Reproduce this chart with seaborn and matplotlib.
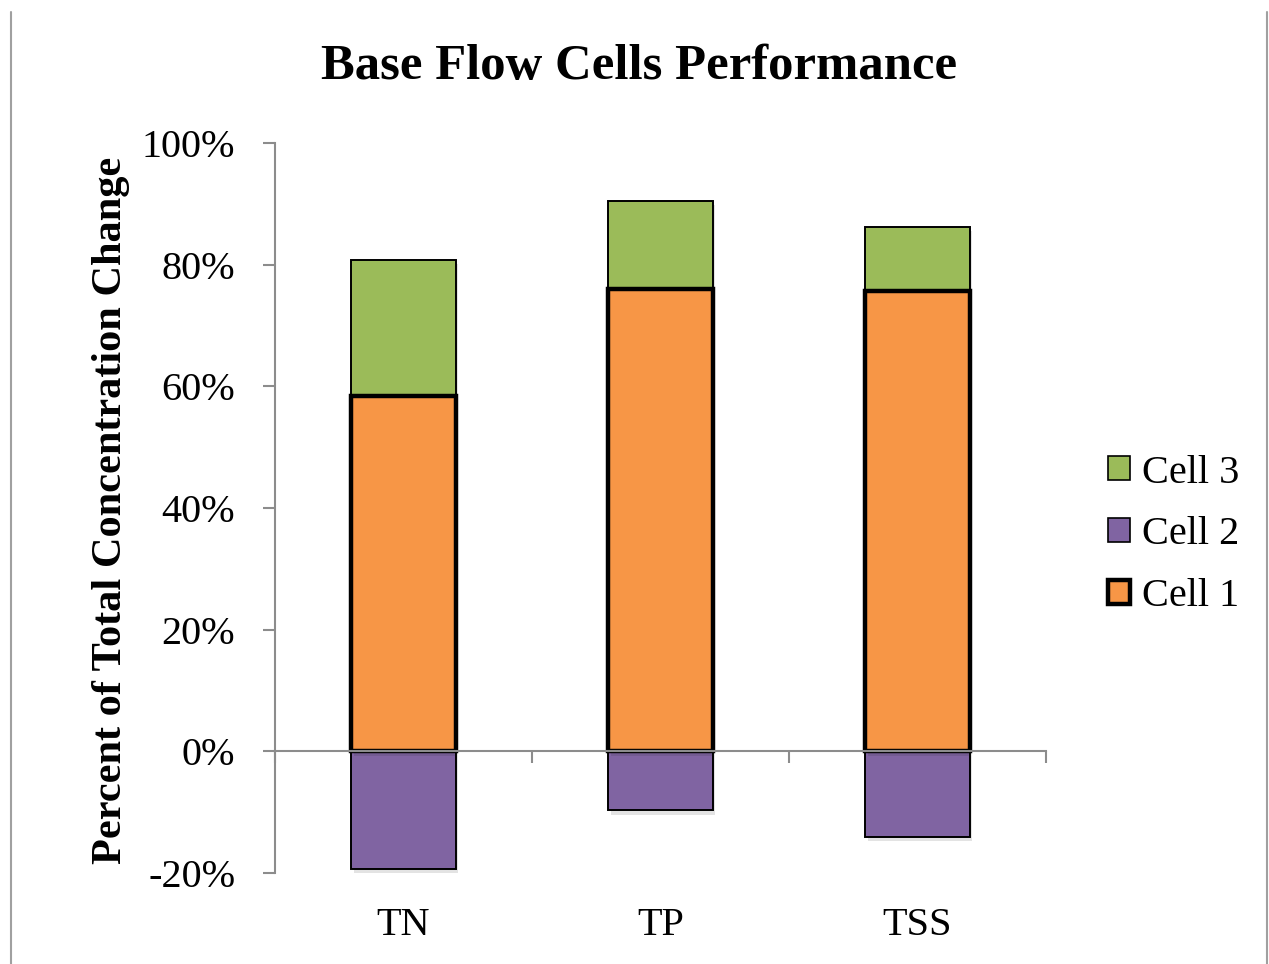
import numpy as np
import pandas as pd
import seaborn as sns
import matplotlib.pyplot as plt
from matplotlib.lines import Line2D
from matplotlib.ticker import PercentFormatter, FixedLocator
import matplotlib.patheffects as pe

# values (fraction of total concentration change)
categories = ['TN', 'TP', 'TSS']
cell1 = [0.584, 0.760, 0.757]
cell2 = [-0.194, -0.097, -0.140]
cell3 = [0.224, 0.145, 0.105]

c1_color = '#F79646'
c2_color = '#8064A2'
c3_color = '#9BBB59'
grey = '#8C8C8C'

sns.set_theme(style='white')
plt.rcParams['font.family'] = ['Liberation Serif', 'DejaVu Serif']
plt.rcParams['axes.unicode_minus'] = False
plt.rcParams['text.color'] = 'black'
plt.rcParams['axes.labelcolor'] = 'black'

df = pd.DataFrame({'cat': categories, 'Cell 1': cell1, 'Cell 2': cell2, 'Cell 3': cell3})

fig = plt.figure(figsize=(12.69, 9.64), dpi=100)
ax = fig.add_axes([275/1269, 1-873/964, 771/1269, 730/964])

shadow = [pe.SimplePatchShadow(offset=(2, -3), shadow_rgbFace='k', alpha=0.12), pe.Normal()]

sns.barplot(data=df, x='cat', y='Cell 2', color=c2_color, width=0.405,
            edgecolor='black', linewidth=1.4, saturation=1, ax=ax)
sns.barplot(data=df, x='cat', y='Cell 3', bottom=df['Cell 1'], color=c3_color, width=0.405,
            edgecolor='black', linewidth=1.4, saturation=1, ax=ax)
sns.barplot(data=df, x='cat', y='Cell 1', color=c1_color, width=0.405,
            edgecolor='black', linewidth=3.2, saturation=1, ax=ax)
for p in ax.patches:
    p.set_path_effects(shadow)

ax.set_ylim(-0.2, 1.0)
ax.set_xlim(-0.5, 2.5)
ax.yaxis.set_major_locator(FixedLocator(np.arange(-0.2, 1.01, 0.2)))
ax.yaxis.set_major_formatter(PercentFormatter(1.0, decimals=0))

for s in ['top', 'right']:
    ax.spines[s].set_visible(False)
ax.spines['left'].set_color(grey)
ax.spines['left'].set_linewidth(1.5)
ax.spines['bottom'].set_color(grey)
ax.spines['bottom'].set_linewidth(1.5)
ax.spines['bottom'].set_position(('data', 0))
ax.spines['bottom'].set_zorder(5)

ax.tick_params(axis='y', which='major', left=True, direction='out', length=8.6,
               width=1.5, color=grey, labelsize=29, pad=20, labelcolor='black')
ax.xaxis.set_minor_locator(FixedLocator([-0.5, 0.5, 1.5, 2.5]))
ax.tick_params(axis='x', which='minor', bottom=True, direction='out', length=8.6,
               width=1.5, color=grey)
ax.tick_params(axis='x', which='major', bottom=True, length=0, labelsize=29, pad=112,
               labelcolor='black')

ax.set_xlabel('')
ax.set_ylabel('Percent of Total Concentration Change', fontsize=30.5, fontweight='bold',
              color='black')
ax.yaxis.set_label_coords(-0.188, 0.497)

fig.text(639/1269, 1-67/964, 'Base Flow Cells Performance', ha='center', va='center',
         fontsize=36.5, fontweight='bold', color='black')

handles = [
    plt.Rectangle((0, 0), 1, 1, facecolor=c3_color, edgecolor='black', linewidth=1.2),
    plt.Rectangle((0, 0), 1, 1, facecolor=c2_color, edgecolor='black', linewidth=1.2),
    plt.Rectangle((0, 0), 1, 1, facecolor=c1_color, edgecolor='black', linewidth=3.2),
]
fig.legend(handles, ['Cell 3', 'Cell 2', 'Cell 1'], loc='center left',
           bbox_to_anchor=(1072/1269, 1-535/964), frameon=False, fontsize=29,
           handlelength=0.55, handleheight=0.55, handletextpad=0.3, labelspacing=0.62)

# chart frame edges
fig.add_artist(Line2D([11/1269, 11/1269], [0, 1-12/964], color='#A0A0A0', lw=1.5))
fig.add_artist(Line2D([1267/1269, 1267/1269], [0, 1-12/964], color='#A0A0A0', lw=1.5))

fig.savefig('out.png', dpi=100)
